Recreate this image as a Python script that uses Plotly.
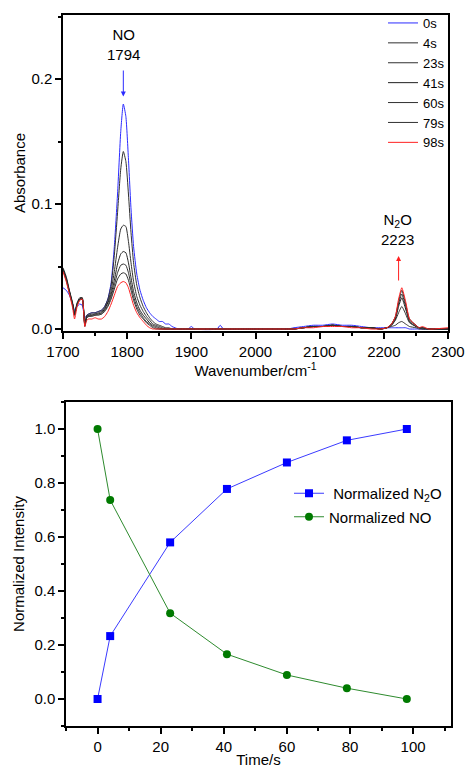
import plotly.graph_objects as go

# ---------------- data: IR spectra ----------------
wavenumber = [1700,1705,1710,1715,1718,1722,1726,1730,1734,1737,1740,1745,1750,1755,
              1760,1765,1770,1775,1780,1785,1790,1794,1798,1802,1806,1810,1815,1820,1825,1830,1835,1840,1845,1850,1855,1860,1865,1870,1880,
              1895,1900,1905,1940,1945,1950,2000,2050,
              2060,2075,2090,2105,2120,2135,2150,2165,2180,2195,
              2205,2212,2218,2223,2228,2234,2240,2250,2255,2260,2270,2300]

abs_0s = ([0.033,0.031,0.027,0.020,0.015,0.018,0.020,0.019,0.009,0.011,0.012,0.013,0.013,0.014]
          + [0.015,0.018,0.024,0.037,0.066,0.108,0.158,0.180,0.170,0.136,0.096,0.066,0.044,0.031,0.023,0.017,0.013,0.010,0.008,0.006,0.006,0.004,0.004,0.002,0.000]
          + [0.000,0.002,0.000,0.000,0.003,0.000,0.000,0.000]
          + [0.001,0.002,0.003,0.003,0.004,0.003,0.003,0.002,0.001,0.001]
          + [0.001,0.001,0.001,0.001,0.001,0.001,0.000,0.000,0.000,0.000,0.000,0.000])
abs_4s = ([0.049,0.042,0.031,0.021,0.013,0.021,0.025,0.025,0.004,0.011,0.012,0.013,0.013,0.014]
          + [0.015,0.018,0.024,0.035,0.059,0.093,0.128,0.142,0.134,0.108,0.077,0.053,0.035,0.025,0.018,0.013,0.009,0.006,0.004,0.003,0.002,0.001,0.001,0.000,0.000]
          + [0,0,0,0,0,0,0,0]
          + [0.000,0.001,0.002,0.002,0.003,0.002,0.002,0.001,0.001,0.000]
          + [0.001,0.002,0.003,0.005,0.006,0.004,0.002,0.001,0.000,0.000,0.000,0.000])
abs_23s = ([0.048,0.041,0.030,0.020,0.012,0.020,0.024,0.025,0.003,0.010,0.011,0.012,0.012,0.013]
           + [0.014,0.017,0.022,0.031,0.046,0.065,0.080,0.083,0.082,0.070,0.053,0.038,0.026,0.019,0.014,0.010,0.007,0.004,0.003,0.002,0.001,0.000,0.000,0.000,0.000]
           + [0,0,0,0,0,0,0,0]
           + [0.000,0.001,0.002,0.002,0.003,0.002,0.002,0.001,0.001,0.000]
           + [0.001,0.003,0.007,0.013,0.018,0.012,0.005,0.002,0.001,0.000,0.000,0.000])
abs_41s = ([0.048,0.040,0.030,0.020,0.012,0.020,0.024,0.024,0.003,0.010,0.011,0.011,0.012,0.012]
           + [0.013,0.016,0.021,0.028,0.039,0.052,0.060,0.062,0.061,0.053,0.041,0.030,0.021,0.015,0.011,0.008,0.005,0.003,0.002,0.001,0,0,0,0,0]
           + [0,0,0,0,0,0,0,0]
           + [0.000,0.001,0.002,0.002,0.003,0.002,0.002,0.001,0.001,0.000]
           + [0.001,0.003,0.008,0.018,0.025,0.016,0.006,0.002,0.001,0.001,0.000,0.000])
abs_60s = ([0.047,0.040,0.029,0.019,0.011,0.020,0.024,0.024,0.003,0.009,0.010,0.011,0.011,0.012]
           + [0.012,0.015,0.019,0.026,0.035,0.045,0.051,0.052,0.051,0.045,0.035,0.026,0.018,0.013,0.009,0.006,0.004,0.002,0.001,0,0,0,0,0,0]
           + [0,0,0,0,0,0,0,0]
           + [0.000,0.001,0.002,0.002,0.003,0.002,0.002,0.001,0.001,0.000]
           + [0.001,0.004,0.009,0.020,0.028,0.018,0.007,0.003,0.001,0.001,0.000,0.000])
abs_79s = ([0.047,0.039,0.029,0.019,0.011,0.019,0.023,0.024,0.002,0.009,0.010,0.010,0.011,0.011]
           + [0.012,0.014,0.018,0.024,0.032,0.040,0.044,0.045,0.044,0.039,0.031,0.023,0.016,0.011,0.008,0.005,0.003,0.001,0,0,0,0,0,0,0]
           + [0,0,0,0,0,0,0,0]
           + [0.000,0.001,0.002,0.002,0.003,0.002,0.002,0.001,0.001,0.000]
           + [0.001,0.004,0.010,0.022,0.031,0.020,0.008,0.003,0.001,0.001,0.000,0.000])
abs_98s = ([0.046,0.038,0.028,0.017,0.008,0.018,0.023,0.024,0.002,0.007,0.008,0.008,0.009,0.008]
           + [0.008,0.010,0.014,0.020,0.027,0.034,0.037,0.038,0.037,0.033,0.026,0.019,0.013,0.009,0.006,0.003,0.001,0,0,0,0,0,0,0,0]
           + [0,0,0,0,0,0,0,0]
           + [0.000,0.001,0.001,0.002,0.002,0.002,0.001,0.001,0.000,0.000]
           + [0.001,0.004,0.010,0.024,0.033,0.022,0.008,0.003,0.001,0.002,0.000,0.001])

spectrum_labels = ["0s", "4s", "23s", "41s", "60s", "79s", "98s"]
spectra = [abs_0s, abs_4s, abs_23s, abs_41s, abs_60s, abs_79s, abs_98s]
spectrum_colors = ["#2b2bff", "#303030", "#303030", "#202020", "#303030", "#303030", "#ff2020"]

# ---------------- data: kinetics ----------------
time_s = [0, 4, 23, 41, 60, 79, 98]
norm_n2o = [0.0, 0.233, 0.580, 0.778, 0.876, 0.958, 1.0]
norm_no = [1.0, 0.737, 0.318, 0.166, 0.089, 0.040, 0.0]

FONT = "Liberation Sans, Arial, sans-serif"
W, H = 465, 768
fig = go.Figure()

for lab, ys, col in zip(spectrum_labels, spectra, spectrum_colors):
    fig.add_trace(go.Scatter(x=wavenumber, y=ys, mode="lines", name=lab,
                             line=dict(color=col, width=1, shape="spline", smoothing=0.5),
                             xaxis="x", yaxis="y", legend="legend"))

fig.add_trace(go.Scatter(x=time_s, y=norm_n2o, mode="lines+markers",
                         name=" Normalized N<sub>2</sub>O",
                         line=dict(color="#3b3bff", width=1),
                         marker=dict(symbol="square", size=8, color="#0000ff"),
                         xaxis="x2", yaxis="y2", legend="legend2", legendgroup="a"))
fig.add_trace(go.Scatter(x=time_s, y=norm_no, mode="lines+markers",
                         name="Normalized NO",
                         line=dict(color="#2e8b2e", width=1),
                         marker=dict(symbol="circle", size=8, color="#007a00"),
                         xaxis="x2", yaxis="y2", legend="legend2", legendgroup="b"))

axis_common = dict(showline=True, linecolor="black", linewidth=1.5, mirror=True,
                   ticks="outside", ticklen=6, tickwidth=1.5, tickcolor="black",
                   showgrid=False, zeroline=False, automargin=False,
                   tickfont=dict(family=FONT, size=15, color="black"),
                   title_font=dict(family=FONT, size=15, color="black"))

fig.update_layout(
    width=W, height=H,
    margin=dict(l=0, r=0, t=0, b=0, autoexpand=False),
    paper_bgcolor="white", plot_bgcolor="white",
    font=dict(family=FONT, size=15, color="black"),
    xaxis=dict(axis_common, domain=[63/W, 448/W], anchor="y",
               range=[1700, 2300], dtick=100, tick0=1700,
               minor=dict(dtick=50, ticks="outside", ticklen=3.5, tickwidth=1.5, tickcolor="black"),
               title=dict(text="Wavenumber/cm<sup>-1</sup>", standoff=2)),
    yaxis=dict(axis_common, domain=[1-331/H, 1-15/H], anchor="x",
               range=[-0.0016, 0.2512], dtick=0.1, tick0=0, tickformat=".1f",
               minor=dict(dtick=0.05, ticks="outside", ticklen=3.5, tickwidth=1.5, tickcolor="black"),
               title=dict(text="Absorbance", standoff=2)),
    xaxis2=dict(axis_common, domain=[66/W, 451/W], anchor="y2",
                range=[-10, 112], dtick=20, tick0=0,
                minor=dict(dtick=10, ticks="outside", ticklen=3.5, tickwidth=1.5, tickcolor="black"),
                title=dict(text="Time/s", standoff=7)),
    yaxis2=dict(axis_common, domain=[1-726/H, 1-402/H], anchor="x2",
                range=[-0.1, 1.1], dtick=0.2, tick0=0, tickformat=".1f",
                minor=dict(dtick=0.1, ticks="outside", ticklen=3.5, tickwidth=1.5, tickcolor="black"),
                title=dict(text="Normalized Intensity", standoff=6)),
    legend=dict(x=383/W, y=1-8/H, xanchor="left", yanchor="top",
                bgcolor="rgba(0,0,0,0)", font=dict(family=FONT, size=13, color="black"),
                tracegroupgap=0),
    legend2=dict(x=289/W, y=1-477/H, xanchor="left", yanchor="top",
                 bgcolor="rgba(0,0,0,0)", font=dict(family=FONT, size=15, color="black"),
                 tracegroupgap=1),
    annotations=[
        dict(x=1794, y=0.228, xref="x", yref="y", text="NO<br>1794", showarrow=False,
             font=dict(family=FONT, size=15, color="black")),
        dict(x=1794, y=0.186, xref="x", yref="y", ax=1794, ay=0.208, axref="x", ayref="y",
             text="", showarrow=True, arrowhead=2, arrowsize=1, arrowwidth=1, arrowcolor="#2b2bff",
             standoff=0, startstandoff=0),
        dict(x=2221, y=0.0796, xref="x", yref="y", text="N<sub>2</sub>O<br>2223", showarrow=False,
             font=dict(family=FONT, size=15, color="black")),
        dict(x=2223, y=0.0584, xref="x", yref="y", ax=2223, ay=0.0376, axref="x", ayref="y",
             text="", showarrow=True, arrowhead=2, arrowsize=1, arrowwidth=1, arrowcolor="#ff2020",
             standoff=0, startstandoff=0),
    ],
)

fig.write_html("out.html", config={"displayModeBar": False},
               post_script="document.body.style.margin='0';document.body.style.overflow='hidden';")
